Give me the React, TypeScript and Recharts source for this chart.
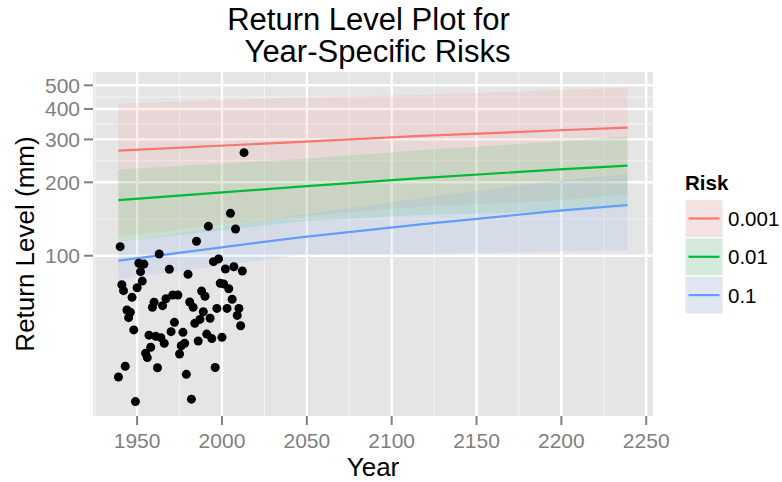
import React from 'react';
import { ComposedChart, XAxis, YAxis, CartesianGrid, Area, Line, Scatter } from 'recharts';

// Observed annual maxima (mm)
const obsYears = [
  1939, 1940, 1941, 1942, 1943, 1944, 1945, 1946, 1947, 1948, 1949, 1950, 1951, 1952, 1953,
  1954, 1955, 1956, 1957, 1958, 1959, 1960, 1961, 1962, 1963, 1964, 1965, 1966, 1967, 1969,
  1970, 1971, 1972, 1974, 1975, 1976, 1977, 1978, 1979, 1980, 1981, 1982, 1983, 1984, 1985,
  1986, 1987, 1988, 1989, 1990, 1991, 1992, 1993, 1994, 1995, 1996, 1997, 1998, 1999, 2000,
  2001, 2002, 2003, 2004, 2005, 2006, 2007, 2008, 2009, 2010, 2011, 2012, 2013,
];
const obsLevels = [
  31.8, 108.9, 76, 71.9, 35.2, 59.9, 55.7, 58.6, 67.5, 49.6, 25.2, 73.9, 93.1, 86, 78.7,
  92.4, 39.8, 38.2, 47.2, 42.1, 61.4, 64.4, 46.7, 34.7, 101.6, 46.1, 62.4, 43.7, 66.6, 88,
  48.8, 69, 53.3, 69, 39.5, 42.7, 48.5, 43.7, 32.6, 83.9, 64.6, 25.8, 61.4, 52.8, 114.6,
  44.7, 54.8, 71.6, 58.9, 68.2, 47.7, 132, 55.4, 45.7, 94.5, 34.8, 60.8, 97, 77.1, 46.3,
  76.6, 88.2, 60.8, 73.2, 149.2, 66.3, 90.1, 128.7, 56.9, 60.8, 51.6, 86.5, 264.6,
];

// Return levels and confidence bands by year, per risk
const bandYears = [1939, 2046, 2117, 2199, 2239];
const level001 = [270, 293, 310, 327, 335];
const lower001 = [120, 145, 159, 169, 179];
const upper001 = [419, 446, 456, 478, 489];
const level01 = [169, 192, 208, 226, 234];
const lower01 = [114, 138, 147, 151.5, 158];
const upper01 = [226, 249, 271, 294, 308];
const level1 = [95.4, 119, 134.5, 153, 161.4];
const lower1 = [80, 100.7, 101.5, 104, 105.5];
const upper1 = [114, 147, 172, 204, 216];

const riskLabels = ['0.001', '0.01', '0.1'];
const riskColors = ['#F8766D', '#00BA38', '#619CFF'];

const xTicks = [1950, 2000, 2050, 2100, 2150, 2200, 2250];
const xMinor = [1925, 1975, 2025, 2075, 2125, 2175, 2225];
const yTicks = [100, 200, 300, 400, 500];

const FONT = '"Liberation Sans", Arial, Helvetica, sans-serif';
const BAND_ALPHA = 0.12;

const observations = obsYears.map((year, i) => ({ year, level: obsLevels[i] }));

const buildRisk = (level: number[], lower: number[], upper: number[]) =>
  bandYears.map((year, i) => ({ year, level: level[i], band: [lower[i], upper[i]] }));

const riskSeries = [
  buildRisk(level001, lower001, upper001),
  buildRisk(level01, lower01, upper01),
  buildRisk(level1, lower1, upper1),
];

// minor grid sits halfway between major breaks on the log scale
const yMinor = yTicks.slice(1).map((v, i) => Math.sqrt(v * yTicks[i]));

const Dot = (p: any) => <circle cx={p.cx} cy={p.cy} r={4.5} fill="#000000" />;

export default function App() {
  return (
    <div style={{ position: 'absolute', left: 0, top: 0, width: 782, height: 482, background: '#ffffff' }}>
      <ComposedChart
        width={782}
        height={482}
        margin={{ top: 72, right: 129, bottom: 26, left: 0 }}
      >
        <CartesianGrid
          fill="#E5E5E5"
          stroke="#F2F2F2"
          strokeWidth={1.2}
          horizontalValues={yMinor}
          verticalValues={xMinor}
        />
        <CartesianGrid
          stroke="#FFFFFF"
          strokeWidth={2.4}
          horizontalValues={yTicks}
          verticalValues={xTicks}
        />
        <XAxis
          dataKey="year"
          type="number"
          domain={[1924, 2254]}
          ticks={xTicks}
          interval={0}
          allowDataOverflow
          height={40}
          axisLine={false}
          tickSize={9}
          tickMargin={8}
          tickLine={{ stroke: '#7F7F7F', strokeWidth: 2 }}
          tick={{ fill: '#7F7F7F', fontSize: 21, fontFamily: FONT }}
        />
        <YAxis
          type="number"
          scale="log"
          domain={[22, 567]}
          ticks={yTicks}
          interval={0}
          allowDataOverflow
          width={93}
          axisLine={false}
          tickSize={9}
          tickMargin={4}
          tickLine={{ stroke: '#7F7F7F', strokeWidth: 2 }}
          tick={{ fill: '#7F7F7F', fontSize: 21, fontFamily: FONT }}
        />
        {riskSeries.map((rows, i) => (
          <Area
            key={'band' + i}
            data={rows}
            dataKey="band"
            type="linear"
            stroke="none"
            fill={riskColors[i]}
            fillOpacity={BAND_ALPHA}
            isAnimationActive={false}
          />
        ))}
        {riskSeries.map((rows, i) => (
          <Line
            key={'line' + i}
            data={rows}
            dataKey="level"
            type="linear"
            stroke={riskColors[i]}
            strokeWidth={2.2}
            dot={false}
            isAnimationActive={false}
          />
        ))}
        <Scatter data={observations} dataKey="level" shape={Dot} isAnimationActive={false} />
      </ComposedChart>

      <svg
        width={782}
        height={482}
        style={{ position: 'absolute', left: 0, top: 0, pointerEvents: 'none' }}
        fontFamily={FONT}
      >
        <text x={368.5} y={30} textAnchor="middle" fontSize={31} fill="#000">Return Level Plot for</text>
        <text x={377.5} y={62} textAnchor="middle" fontSize={31} fill="#000">Year-Specific Risks</text>
        <text x={373} y={476} textAnchor="middle" fontSize={26} fill="#000">Year</text>
        <text
          transform="translate(34,244) rotate(-90)"
          textAnchor="middle"
          fontSize={26}
          fill="#000"
        >
          Return Level (mm)
        </text>
        <text x={685} y={190} fontSize={20.5} fontWeight="bold" fill="#000">Risk</text>
        {riskLabels.map((label, i) => {
          const top = 199.5 + i * 38.3;
          return (
            <g key={label}>
              <rect x={685} y={top} width={38} height={38} fill="#F2F2F2" stroke="#FFFFFF" strokeWidth={1} />
              <rect x={685.5} y={top + 0.5} width={37} height={37} fill={riskColors[i]} fillOpacity={BAND_ALPHA} />
              <line x1={688.5} x2={719.5} y1={top + 19} y2={top + 19} stroke={riskColors[i]} strokeWidth={2.2} />
              <text x={728} y={top + 26.5} fontSize={20.5} fill="#000">{label}</text>
            </g>
          );
        })}
      </svg>
    </div>
  );
}
